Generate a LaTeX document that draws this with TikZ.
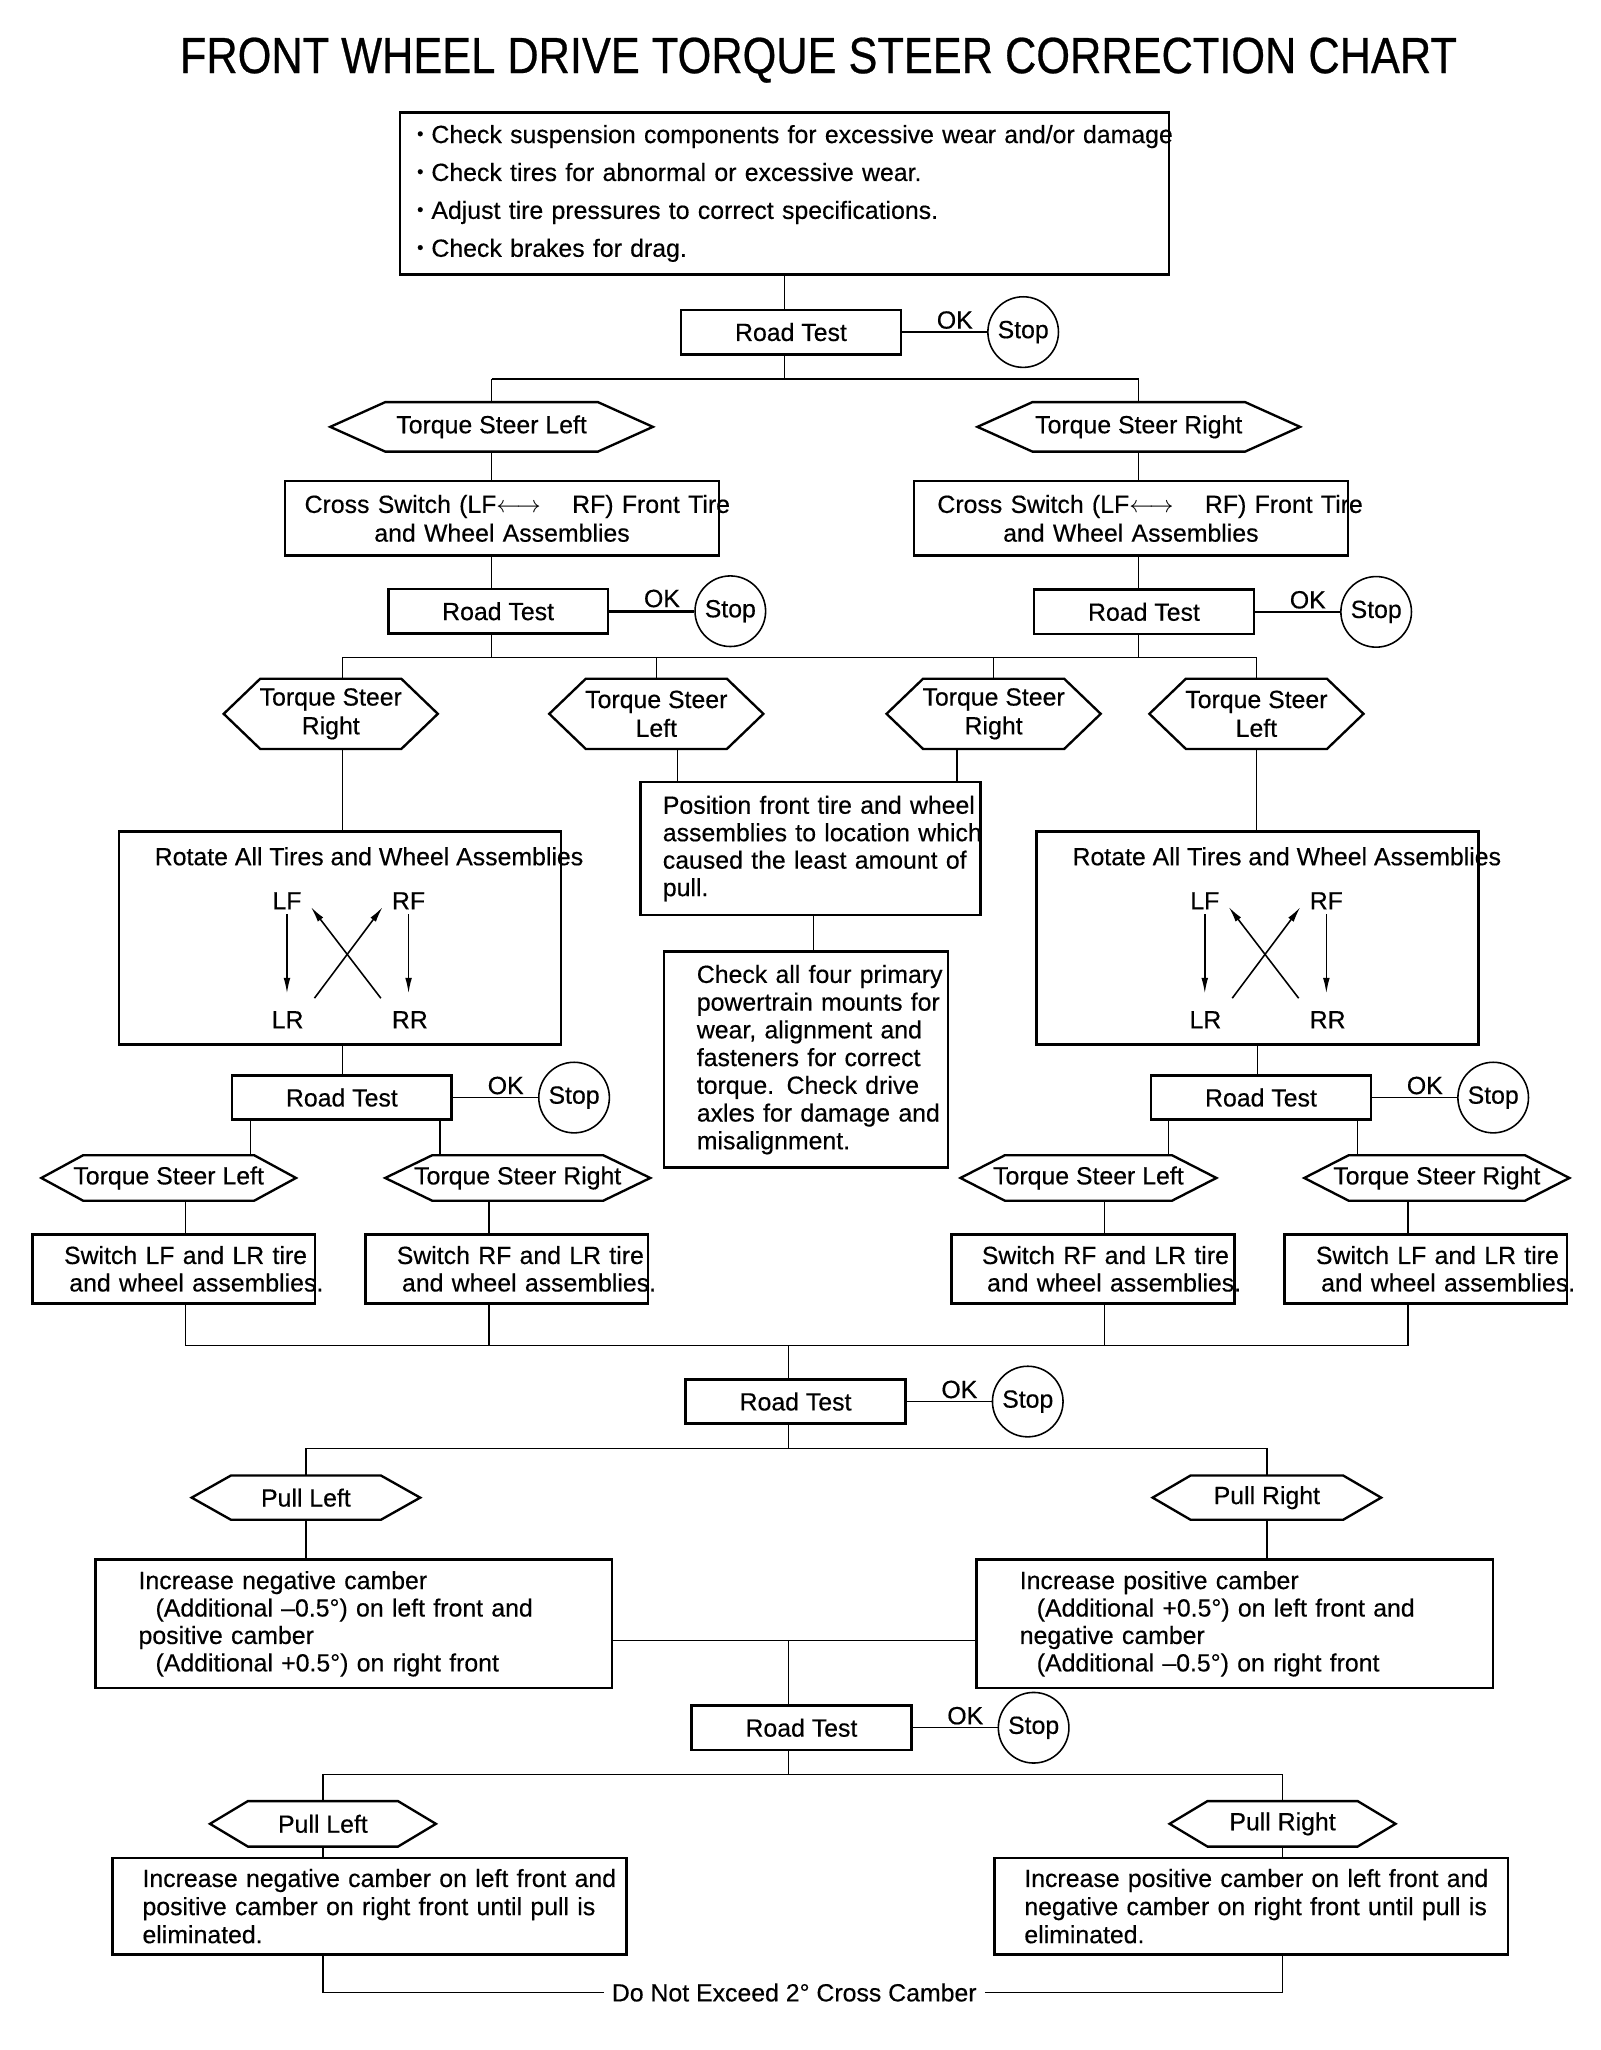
\documentclass[tikz,border=0pt]{standalone}
\usepackage{fontspec}
\setmainfont{Liberation Sans}[FakeBold=0.4]
\newfontfamily\titlefont[FakeStretch=0.85,FakeBold=0.5]{Liberation Sans}
\usetikzlibrary{positioning,calc,arrows.meta}

% small raised bullet for the check list
\newcommand{\dotitem}{\makebox[5.5pt][l]{\raisebox{1.2pt}{\scriptsize\textbullet}}}
% hexagon drawn round a blank node: name, length of the pointed ends
\newcommand{\hexframe}[2]{%
  \draw[hexline] (#1.west) -- ([xshift=#2]#1.north west) -- ([xshift=-#2]#1.north east)
    -- (#1.east) -- ([xshift=-#2]#1.south east) -- ([xshift=#2]#1.south west) -- cycle;}

\tikzset{
  txt/.style={font=\fontsize{9.5}{10.5}\selectfont},
  chartbox/.style={txt, draw, line width=1pt, inner ysep=0pt},
  testbox/.style={chartbox, minimum width=84pt, minimum height=17pt, inner xsep=0pt},
  stopmark/.style={txt, draw, circle, line width=0.6pt, minimum size=27pt, inner sep=0pt},
  hexnode/.style={txt, inner sep=0pt, align=center},
  hextwo/.style={hexnode, minimum width=81.5pt, minimum height=26.5pt, font=\fontsize{9.5}{11}\selectfont},
  hexline/.style={line width=0.9pt},
  switchbox/.style={chartbox, minimum width=108pt, minimum height=26.5pt, text width=84pt, inner xsep=12pt, align=left},
  camberbox/.style={chartbox, minimum width=197.5pt, minimum height=49pt, text width=164.5pt, inner xsep=16.5pt, align=left},
  finalbox/.style={chartbox, minimum width=196.5pt, minimum height=37pt, text width=173.5pt, inner xsep=11.5pt,
    align=left, font=\fontsize{9.5}{10.75}\selectfont},
  link/.style={line width=0.5pt},
  busline/.style={line width=1pt},
  turnarrow/.style={line width=0.6pt, -{Latex[length=6pt,width=2.6pt]}},
  oklabel/.style={txt, above, inner sep=1pt, pos=0.62},
}

\begin{document}
\begin{tikzpicture}[x=0.5pt, y=-0.5pt]
\useasboundingbox (0,0) rectangle (1224,1568);

% Title
\node[font=\titlefont\fontsize{19.5}{22}\selectfont] (title) at (626,46)
  {FRONT WHEEL DRIVE TORQUE STEER CORRECTION CHART};

% Preliminary checks
\node[chartbox, minimum width=294pt, minimum height=62pt, text width=281pt, inner xsep=6.5pt,
      align=left, font=\fontsize{9.5}{14.5}\selectfont] (checks) at (600,148) {%
  \mbox{\dotitem Check suspension components for excessive wear and/or damage}\\
  \mbox{\dotitem Check tires for abnormal or excessive wear.}\\
  \mbox{\dotitem Adjust tire pressures to correct specifications.}\\
  \mbox{\dotitem Check brakes for drag.}};

% First road test
\node[testbox] (rt1) at (605,254) {Road Test};
\node[stopmark, right=32.5pt of rt1] (s1) {Stop};
\draw[link] (rt1) -- node[oklabel] {OK} (s1);
\coordinate (bus1) at (600,290);
\draw[link] (checks.south) -- (checks.south |- rt1.north);
\draw[link] (checks.south |- rt1.south) -- (bus1);

% Torque steer left / right
\node[hexnode, minimum width=123pt, minimum height=18.5pt] (tsl) at (376,326.5) {Torque Steer Left};
\hexframe{tsl}{21pt}
\node[hexnode, minimum width=123pt, minimum height=18.5pt] (tsr) at (871,326.5) {Torque Steer Right};
\hexframe{tsr}{21pt}
\draw[busline] (tsl.north |- bus1) -- (tsr.north |- bus1);
\draw[link] (tsl.north) -- (tsl.north |- bus1);
\draw[link] (tsr.north) -- (tsr.north |- bus1);

% Cross switch of the front wheels
\node[chartbox, minimum width=166pt, minimum height=28.5pt, text width=151pt, inner xsep=7.5pt,
      align=center, font=\fontsize{9.5}{11}\selectfont] (cs1) at (384,396.5)
  {\mbox{Cross Switch (LF$\longleftrightarrow$\hspace{12pt}RF) Front Tire}\\and Wheel Assemblies};
\node[chartbox, minimum width=166pt, minimum height=28.5pt, text width=148pt, inner xsep=9pt,
      align=center, font=\fontsize{9.5}{11}\selectfont] (cs2) at (865,396.5)
  {\mbox{Cross Switch (LF$\longleftrightarrow$\hspace{12pt}RF) Front Tire}\\and Wheel Assemblies};

% Second road tests
\node[testbox] (rt2l) at (381,467.5) {Road Test};
\node[stopmark, right=32.5pt of rt2l] (s2l) {Stop};
\draw[busline] (rt2l) -- node[oklabel] {OK} (s2l);
\node[testbox] (rt2r) at (875,468) {Road Test};
\node[stopmark, right=32.5pt of rt2r] (s2r) {Stop};
\draw[link] (rt2r) -- node[oklabel] {OK} (s2r);
\draw[link] (tsl.south) -- (tsl.south |- cs1.north);
\draw[link] (tsl.south |- cs1.south) -- (tsl.south |- rt2l.north);
\draw[link] (tsr.south) -- (tsr.south |- cs2.north);
\draw[link] (tsr.south |- cs2.south) -- (tsr.south |- rt2r.north);
\coordinate (bus2) at (600,503);
\draw[link] (tsl.south |- rt2l.south) -- (tsl.south |- bus2);
\draw[link] (tsr.south |- rt2r.south) -- (tsr.south |- bus2);

% Four results of the cross switch
\node[hextwo] (h1) at (253,546) {Torque Steer\\Right};
\hexframe{h1}{14pt}
\node[hextwo] (h2) at (502,546) {Torque Steer\\Left};
\hexframe{h2}{14pt}
\node[hextwo] (h3) at (760,546) {Torque Steer\\Right};
\hexframe{h3}{14pt}
\node[hextwo] (h4) at (961,546) {Torque Steer\\Left};
\hexframe{h4}{14pt}
\coordinate (colA) at ([xshift=4.5pt]h1.north);
\draw[link] (colA) |- (bus2) -| (h4.north);
\draw[link] (h2.north) -- (h2.north |- bus2);
\draw[link] (h3.north) -- (h3.north |- bus2);

% Rotation boxes
\node[chartbox, minimum width=169pt, minimum height=81.5pt] (rot1) at (260,717.5) {};
\node[chartbox, minimum width=169pt, minimum height=81.5pt] (rot2) at (962,717.5) {};
\draw[link] (colA |- h1.south) -- (colA |- rot1.north);
\draw[link] (h4.south) -- (h4.south |- rot2.north);
\foreach \rb in {rot1,rot2} {
  \node[txt, anchor=west, inner sep=0pt] (\rb-cap) at ($(\rb.north west)+(28,20)$)
    {Rotate All Tires and Wheel Assemblies};
  \begin{scope}[shift={(\rb.center)}]
    \node[txt, inner sep=1.6pt] (\rb-lf) at (-40.5,-28.5) {LF};
    \node[txt, inner sep=1.6pt] (\rb-rf) at (52.5,-28.5) {RF};
    \node[txt, inner sep=1.6pt] (\rb-lr) at (-40,62.5) {LR};
    \node[txt, inner sep=1.6pt] (\rb-rr) at (53.5,62.5) {RR};
    \draw[turnarrow, shorten >=5pt] (\rb-lf.south) -- (\rb-lf.south |- \rb-lr.north);
    \draw[turnarrow, shorten >=5pt] (\rb-rf.south) -- (\rb-rf.south |- \rb-rr.north);
    \draw[turnarrow, shorten <=4pt, shorten >=3pt] (\rb-lr.north east) -- (\rb-rf.west);
    \draw[turnarrow, shorten <=4pt, shorten >=3pt] (\rb-rr.north west) -- (\rb-lf.east);
  \end{scope}
}

% Least pull position and mounts check
\node[chartbox, minimum width=130pt, minimum height=51pt, text width=113pt, inner xsep=8.5pt,
      align=left] (pos) at (620,649)
  {\mbox{Position front tire and wheel}\\\mbox{assemblies to location which}\\\mbox{caused the least amount of}\\pull.};
\node[chartbox, minimum width=108.5pt, minimum height=82.5pt, text width=83.5pt, inner xsep=12.5pt,
      align=left, font=\fontsize{9.5}{10.6}\selectfont] (chk) at (616.5,810.5)
  {\mbox{Check all four primary}\\\mbox{powertrain mounts for}\\\mbox{wear, alignment and}\\\mbox{fasteners for correct}\\\mbox{torque. Check drive}\\\mbox{axles for damage and}\\misalignment.};
\coordinate (k2) at ([xshift=8pt]h2.south);
\coordinate (k3) at ([xshift=-14pt]h3.south);
\coordinate (kp) at ([xshift=1pt]pos.south);
\draw[link] (k2) -- (k2 |- pos.north);
\draw[link] (k3) -- (k3 |- pos.north);
\draw[link] (kp) -- (kp |- chk.north);

% Third road tests
\node[testbox] (rt3l) at (261.5,839.5) {Road Test};
\node[stopmark, right=32.5pt of rt3l] (s3l) {Stop};
\draw[link] (rt3l) -- node[oklabel] {OK} (s3l);
\node[testbox] (rt3r) at (964.5,839.5) {Road Test};
\node[stopmark, right=32.5pt of rt3r] (s3r) {Stop};
\draw[link] (rt3r) -- node[oklabel] {OK} (s3r);
\draw[link] (colA |- rot1.south) -- (colA |- rt3l.north);
\draw[link] (rot2.south) -- (rot2.south |- rt3r.north);

% Torque steer after rotation
\node[hexnode, minimum width=97pt, minimum height=17pt] (h5) at (129,901) {Torque Steer Left};
\hexframe{h5}{16pt}
\node[hexnode, minimum width=101pt, minimum height=17pt] (h6) at (396,901) {Torque Steer Right};
\hexframe{h6}{18pt}
\node[hexnode, minimum width=97.5pt, minimum height=17pt] (h7) at (832.5,901) {Torque Steer Left};
\hexframe{h7}{17pt}
\node[hexnode, minimum width=101pt, minimum height=17pt] (h8) at (1099,901) {Torque Steer Right};
\hexframe{h8}{17pt}
\coordinate (t5) at ([xshift=7.5pt]rt3l.south west);
\coordinate (t6) at ([xshift=-5pt]rt3l.south east);
\coordinate (t7) at ([xshift=7pt]rt3r.south west);
\coordinate (t8) at ([xshift=-5.5pt]rt3r.south east);
\draw[link] (t5) -- (t5 |- h5.north);
\draw[link] (t6) -- (t6 |- h6.north);
\draw[link] (t7) -- (t7 |- h7.north);
\draw[link] (t8) -- (t8 |- h8.north);

% Switch boxes
\node[switchbox] (sw1) at (133,970.5) {\mbox{Switch LF and LR tire}\\\mbox{\hspace*{2pt}and wheel assemblies.}};
\node[switchbox] (sw2) at (387.5,970.5) {\mbox{Switch RF and LR tire}\\\mbox{\hspace*{2pt}and wheel assemblies.}};
\node[switchbox, inner xsep=11.5pt, text width=85pt] (sw3) at (836,970.5) {\mbox{Switch RF and LR tire}\\\mbox{\hspace*{2pt}and wheel assemblies.}};
\node[switchbox] (sw4) at (1090.5,970.5) {\mbox{Switch LF and LR tire}\\\mbox{\hspace*{2pt}and wheel assemblies.}};
\coordinate (c1) at ([xshift=4.5pt]sw1.north);
\coordinate (c2) at ([xshift=-6.75pt]sw2.north);
\coordinate (c3) at ([xshift=4.5pt]sw3.north);
\coordinate (c4) at ([xshift=-6.75pt]sw4.north);
\draw[link] (c1 |- h5.south) -- (c1);
\draw[link] (c2 |- h6.south) -- (c2);
\draw[link] (c3 |- h7.south) -- (c3);
\draw[link] (c4 |- h8.south) -- (c4);
\coordinate (bus3) at (603,1029);
\draw[link] (c1 |- sw1.south) |- (c4 |- bus3) -- (c4 |- sw4.south);
\draw[link] (c2 |- sw2.south) -- (c2 |- bus3);
\draw[link] (c3 |- sw3.south) -- (c3 |- bus3);

% Fourth road test
\node[testbox] (rt4) at (608.5,1072) {Road Test};
\node[stopmark, right=32.5pt of rt4] (s4) {Stop};
\draw[link] (rt4) -- node[oklabel] {OK} (s4);
\draw[link] (bus3) -- (bus3 |- rt4.north);
\coordinate (bus4) at (603,1108);
\draw[link] (bus3 |- rt4.south) -- (bus4);

% Pull left / right, camber change
\node[hexnode, minimum width=87pt, minimum height=16.5pt] (pl1) at (234,1145.5) {Pull Left};
\hexframe{pl1}{15pt}
\node[hexnode, minimum width=87pt, minimum height=16.5pt] (pr1) at (969,1145.5) {Pull Right};
\hexframe{pr1}{14.5pt}
\draw[link] (pl1.north) |- (bus4) -| (pr1.north);
\node[camberbox] (neg1) at (270.5,1242)
  {Increase negative camber\\\hspace*{6.5pt}(Additional –0.5°) on left front and\\positive camber\\\hspace*{6.5pt}(Additional +0.5°) on right front};
\node[camberbox] (pos1) at (944.5,1242)
  {Increase positive camber\\\hspace*{6.5pt}(Additional +0.5°) on left front and\\negative camber\\\hspace*{6.5pt}(Additional –0.5°) on right front};
\draw[link] (pl1.south) -- (pl1.south |- neg1.north);
\draw[link] (pr1.south) -- (pr1.south |- pos1.north);
\coordinate (k5) at ([yshift=-6.5pt]neg1.east);
\draw[link] (k5) -- (k5 -| pos1.west);

% Fifth road test
\node[testbox] (rt5) at (613,1321.5) {Road Test};
\node[stopmark, right=32.5pt of rt5] (s5) {Stop};
\draw[link] (rt5) -- node[oklabel] {OK} (s5);
\draw[link] (k5 -| bus3) -- (bus3 |- rt5.north);
\coordinate (bus5) at (603,1357);
\draw[link] (bus3 |- rt5.south) -- (bus5);

% Last pull check
\node[hexnode, minimum width=86pt, minimum height=17pt] (pl2) at (247,1395) {Pull Left};
\hexframe{pl2}{14.5pt}
\node[hexnode, minimum width=86pt, minimum height=17pt] (pr2) at (981,1395) {Pull Right};
\hexframe{pr2}{14.5pt}
\draw[link] (pl2.north) |- (bus5) -| (pr2.north);
\node[finalbox] (neg2) at (282.5,1458)
  {\mbox{Increase negative camber on left front and}\\\mbox{positive camber on right front until pull is}\\eliminated.};
\node[finalbox] (pos2) at (957,1458)
  {\mbox{Increase positive camber on left front and}\\\mbox{negative camber on right front until pull is}\\eliminated.};
\draw[link] (pl2.south) -- (pl2.south |- neg2.north);
\draw[link] (pr2.south) -- (pr2.south |- pos2.north);
\node[txt, inner xsep=3pt] (note) at (607.5,1524) {Do Not Exceed 2° Cross Camber};
\draw[link] (pl2.south |- neg2.south) |- (note.west);
\draw[link] (note.east) -| (pr2.south |- pos2.south);

\end{tikzpicture}
\end{document}
